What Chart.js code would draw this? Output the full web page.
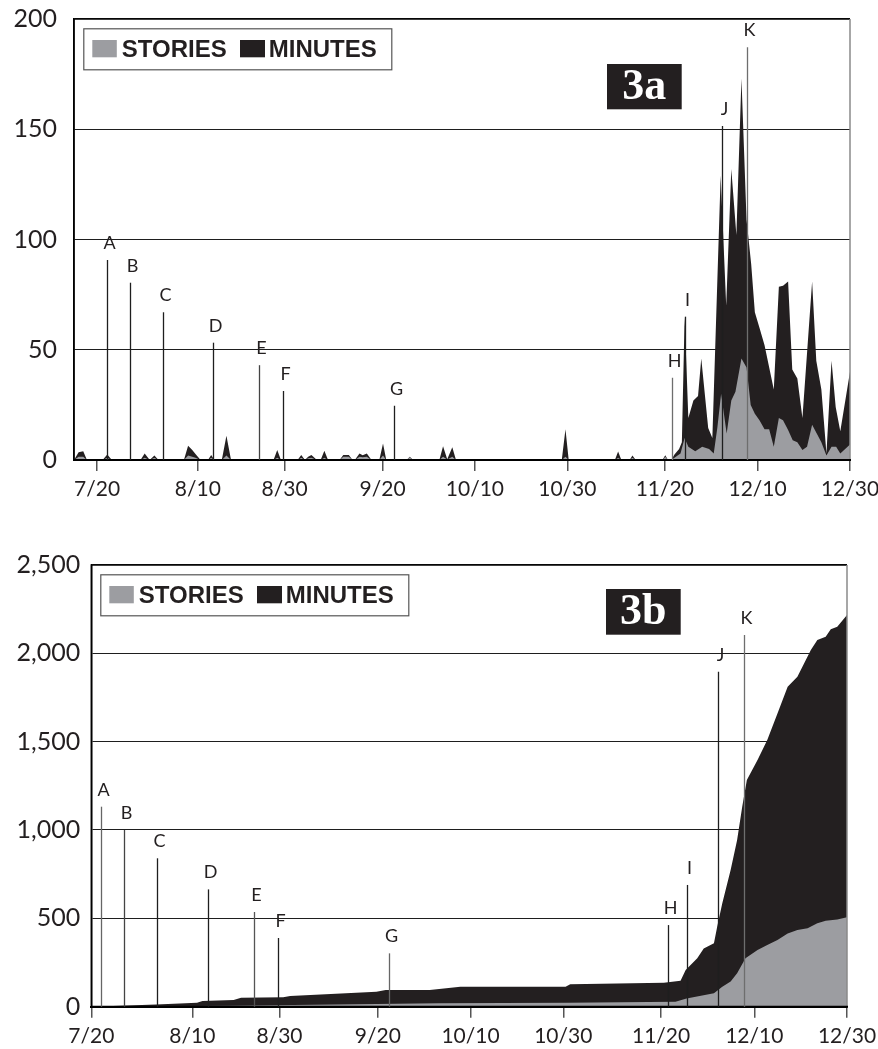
<!DOCTYPE html>
<html><head><meta charset="utf-8">
<script src="https://cdn.jsdelivr.net/npm/chart.js@4"></script>
<style>
html,body{margin:0;padding:0;background:#fff;width:878px;height:1049px;overflow:hidden}
.wrap{position:absolute;left:0;width:878px}
#w1{top:0;height:500px}
#w2{top:540px;height:509px}
canvas{display:block}
</style></head><body>
<div class="wrap" id="w1"><canvas id="c1"></canvas></div>
<div class="wrap" id="w2"><canvas id="c2"></canvas></div>
<script>
// x = days since 7/20
const tickPos = [0, 21.8, 40.6, 61.8, 81.8, 101.8, 122.9, 143, 163];
const tickLabels = ['7/20','8/10','8/30','9/20','10/10','10/30','11/20','12/10','12/30'];
const markLabels = ['A','B','C','D','E','F','G','H','I','J','K'];

// Figure 3a: daily counts
const minutesDayA = [-5,-4,-3,-2.2, 1.2,2.2,3.2, 9.4,10.3,11.4,12.4,13.3, 18.8,19.7,20.6,21.3,22.4, 24,24.7,25.4, 27,28,29, 38.2,39,39.8, 43.4,44.2,45,45.7,46.4,47.6, 48.4,49.2,50, 52.5,53.3,54.5,55.3, 55.8,56.8,57.5,58.4,59.4, 61.1,61.9,62.6, 67,67.7,68.4, 74.1,74.9,75.8,76.9,77.7, 100.6,101.4,102.1, 112.1,112.8,113.5, 115.3,115.9,116.6, 122.4,123,123.6,
  124.3,125,126,126.6,127.2,128,129.1,130.1,130.8,132.3,133.2,135,136.2,137.3,138.4,139.5,140.6,141.6,142.4,143.4,144.5,146.5,147.6,148.5,149.6,150.5,151.6,152.7,154.8,155.7,156.8,157.9,159,159.9,160.9,163];
const minutesValA = [0,3.5,4,0, 0,2.5,0, 0,3,0,2,0, 0,6.5,4.5,2.7,0, 0,2.3,0, 0,11,0, 0,4.5,0, 0,2.3,0,1.5,2.3,0, 0,4.2,0, 0,2.3,2.3,0, 0,3,2.2,3,0, 0,7.5,0, 0,1.5,0, 0,6.2,0.3,5.8,0, 0,14,0, 0,3.8,0, 0,2,0, 0,2.2,0,
  0,2.5,5,8,65,19,27,29,46,14.5,10,129,70,132,102,173,109,89,67,60,52,32,78.6,79,81,41,37,19,81,45,32,3,45,24,13,40];
const storiesDayA = [-5,-4,-3,-2.2, 1.2,2.2,3.2, 9.4,10.3,11.4,12.4,13.3, 18.8,19.7,20.6,21.3,22.4, 24,24.7,25.4, 27,28,29, 38.2,39,39.8, 43.4,44.2,45,45.7,46.4,47.6, 48.4,49.2,50, 52.5,53.3,54.5,55.3, 55.8,56.8,57.5,58.4,59.4, 61.1,61.9,62.6, 67,67.7,68.4, 74.1,74.9,75.8,76.9,77.7, 100.6,101.4,102.1, 112.1,112.8,113.5, 115.3,115.9,116.6, 122.4,123,123.6,
  124.3,126.3,127.2,128,129.5,131,132.5,133.5,134.3,135.1,136.3,137.3,138.2,139.5,140.6,141.5,142.4,143.4,144.5,145.5,146.5,147.6,148.5,149.6,150.6,151.6,152.7,153.7,154.8,155.8,156.8,157.9,159,160,160.9,163];
const storiesValA = [0,1.5,1.5,0, 0,1,0, 0,1,0,1,0, 0,2,1.5,1,0, 0,1,0, 0,2,0, 0,1,0, 0,1,0,0.8,1,0, 0,1,0, 0,1.5,1.5,0, 0,1.5,1.2,1.5,0, 0,2,0, 0,1.2,0, 0,1.5,0.2,1.5,0, 0,1.5,0, 0,1,0, 0,1,0, 0,1.5,0,
  0,3,10,6,4,6,5,3,15,30,12,27,31,46,42,25,21,18,14,14,6,19,18,13.6,9,8,4.5,6,16,12,8,2,6,6,3,7];
const markDayA = [2.2, 7.1, 14.2, 25.1, 35.1, 40.3, 64.3, 124.4, 127.3, 135.3, 140.8];
const markTopA = [90.7, 80.4, 67, 53.2, 43, 31.3, 24.6, 37.3, 65, 151.5, 187.2];

// Figure 3b: cumulative totals
const minutesDayB = [0,14,22.8,24,30.7,32.3,41.4,42.9,61.5,63.5,73,79.6,102.3,103.3,123.5,127.1,128.2,130.7,132.1,134.3,135,136.1,137.9,139.3,140.4,141.4,143.7,145.8,148,150.2,152.3,155.2,156.6,158.4,159.5,160.9,163];
const minutesValB = [0,13,23,32,38,51,53,60,85,94,94,113,113,127,136,147,208,274,330,359,453,585,774,943,1132,1283,1396,1509,1660,1811,1868,2019,2075,2094,2136,2151,2217];
const storiesDayB = [0,30,75,103,126,128.4,134.3,136.1,137.9,139.3,141.1,143.7,145.8,148,150.2,152.3,154.5,156.6,158.4,160.9,163];
const storiesValB = [0,5,19,23,28,47,76,113,142,189,274,321,349,378,415,434,444,472,487,494,506];
const markDayB = [2.1, 7.1, 14.1, 25.2, 35.1, 40.3, 64.3, 124.4, 128.4, 135.2, 140.7];
const markTopB = [1132, 1000, 840, 664, 536, 389, 302, 462, 689, 1896, 2104];

const pts = (xs, ys) => xs.map((x, i) => ({x: x, y: ys[i]}));

const decor = {
  id: 'decor',
  afterDatasetsDraw(chart, args, o) {
    const ctx = chart.ctx, a = chart.chartArea, x = chart.scales.x, y = chart.scales.y;
    ctx.save();
    // frame
    ctx.lineWidth = 1.5;
    ctx.strokeStyle = '#000';
    ctx.beginPath(); ctx.moveTo(a.left, a.bottom); ctx.lineTo(a.left, a.top); ctx.lineTo(a.right, a.top); ctx.stroke();
    ctx.strokeStyle = '#8a8a8a';
    ctx.beginPath(); ctx.moveTo(a.right, a.top); ctx.lineTo(a.right, a.bottom); ctx.stroke();
    ctx.strokeStyle = '#000'; ctx.lineWidth = 2;
    ctx.beginPath(); ctx.moveTo(a.left, a.bottom); ctx.lineTo(a.right + 1, a.bottom); ctx.stroke();
    // event marks
    const base = y.getPixelForValue(0);
    o.days.forEach((d, i) => {
      const px = Math.round(x.getPixelForValue(d)) + 0.5;
      const top = y.getPixelForValue(o.tops[i]);
      ctx.strokeStyle = o.colors[i]; ctx.lineWidth = 1.3;
      ctx.beginPath(); ctx.moveTo(px, base); ctx.lineTo(px, top); ctx.stroke();
      ctx.fillStyle = '#231f20';
      ctx.font = '18px Lato';
      ctx.textAlign = 'center'; ctx.textBaseline = 'alphabetic';
      ctx.fillText(markLabels[i], px + 2, top - 11);
    });
    // legend
    const lx = a.left + o.legend[0], ly = a.top + o.legend[1];
    ctx.fillStyle = '#fff'; ctx.fillRect(lx, ly, 308, 41);
    ctx.strokeStyle = '#555'; ctx.lineWidth = 1.2; ctx.strokeRect(lx + 0.5, ly + 0.5, 308, 41);
    ctx.fillStyle = '#9c9da1'; ctx.fillRect(lx + 9, ly + 11.7, 24.5, 17.3);
    ctx.fillStyle = '#231f20'; ctx.fillRect(lx + 156.7, ly + 11.7, 25, 17.3);
    ctx.font = 'bold 24px "Liberation Sans"'; ctx.textAlign = 'left'; ctx.textBaseline = 'alphabetic';
    ctx.fillText('STORIES', lx + 38.5, ly + 29);
    ctx.fillText('MINUTES', lx + 185.5, ly + 29);
    // title box
    const tb = o.titleBox;
    const tx = a.left + tb[0], ty = a.top + tb[1];
    ctx.fillStyle = '#231f20'; ctx.fillRect(tx, ty, tb[2], tb[3]);
    ctx.fillStyle = '#fff'; ctx.font = 'bold 44px "Liberation Serif"'; ctx.textAlign = 'center';
    ctx.fillText(o.title, tx + tb[2] / 2, ty + 34.5);
    ctx.restore();
  }
};

function makeChart(id, cfg) {
  return new Chart(document.getElementById(id), {
    type: 'line',
    data: {
      datasets: [
        {label: 'STORIES', data: pts(cfg.sx, cfg.sy), fill: 'origin', backgroundColor: '#9c9da1', borderWidth: 0, pointRadius: 0, tension: 0, order: 0},
        {label: 'MINUTES', data: pts(cfg.mx, cfg.my), fill: 'origin', backgroundColor: '#231f20', borderWidth: 0, pointRadius: 0, tension: 0, order: 1}
      ]
    },
    options: {
      responsive: true, maintainAspectRatio: false, animation: false,
      layout: {padding: {top: cfg.padTop, right: cfg.padRight, left: 0, bottom: 0}},
      plugins: {
        legend: {display: false}, tooltip: {enabled: false},
        decor: {days: cfg.markDays, tops: cfg.markTops, colors: cfg.markColors, legend: cfg.legend, titleBox: cfg.titleBox, title: cfg.title}
      },
      scales: {
        x: {
          type: 'linear', min: cfg.xmin, max: 163,
          afterBuildTicks: s => { s.ticks = tickPos.map(v => ({value: v})); },
          afterFit: s => { s.height = cfg.xh; s.paddingLeft = 0; s.paddingRight = 0; s.paddingTop = 0; s.paddingBottom = 0; },
          ticks: {autoSkip: false, maxRotation: 0, padding: 6, color: '#231f20', font: {family: 'Lato', size: 21},
                  callback: (v, i) => tickLabels[i]},
          grid: {drawOnChartArea: false, drawTicks: true, tickLength: 11, color: '#555', lineWidth: 1.5},
          border: {color: '#000', width: 2}
        },
        y: {
          min: 0, max: cfg.ymax,
          afterFit: s => { s.width = cfg.yw; s.paddingTop = 0; s.paddingBottom = 0; s.paddingLeft = 0; s.paddingRight = 0; },
          ticks: {stepSize: cfg.step, padding: cfg.ypad, color: '#231f20', font: {family: 'Lato', size: 25},
                  callback: v => Number(v).toLocaleString('en-US')},
          grid: {color: '#1e1e1e', lineWidth: 1.1, drawTicks: false},
          border: {color: '#000', width: 1.5}
        }
      }
    },
    plugins: [decor]
  });
}

makeChart('c1', {
  sx: storiesDayA, sy: storiesValA, mx: minutesDayA, my: minutesValA,
  xmin: -5, ymax: 200, step: 50, yw: 74, ypad: 17, xh: 40, padTop: 19, padRight: 28,
  markDays: markDayA, markTops: markTopA,
  markColors: ['#1e1e1e','#1e1e1e','#1e1e1e','#1e1e1e','#444','#1e1e1e','#1e1e1e','#6e6e6e','#1e1e1e','#1e1e1e','#6e6e6e'],
  legend: [9.3, 9.3], titleBox: [533, 45, 74.7, 45.3], title: '3a'
});
makeChart('c2', {
  sx: storiesDayB, sy: storiesValB, mx: minutesDayB, my: minutesValB,
  xmin: 0, ymax: 2500, step: 500, yw: 91.3, ypad: 11, xh: 42.3, padTop: 25, padRight: 31,
  markDays: markDayB, markTops: markTopB,
  markColors: ['#666','#444','#1e1e1e','#1e1e1e','#555','#1e1e1e','#666','#1e1e1e','#1e1e1e','#1e1e1e','#6e6e6e'],
  legend: [9, 9.3], titleBox: [514.7, 24, 74.7, 45.7], title: '3b'
});
</script>
</body></html>
